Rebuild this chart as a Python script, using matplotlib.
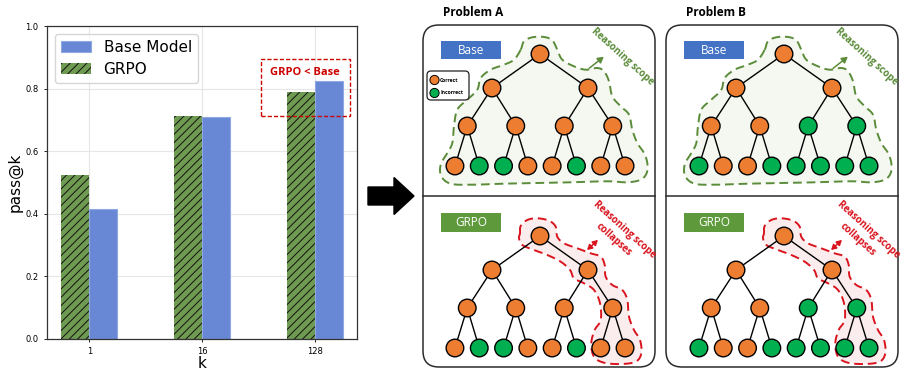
import numpy as np
import matplotlib
matplotlib.use("Agg")
import matplotlib.pyplot as plt
import matplotlib.patches as mpatches
from matplotlib.patches import FancyBboxPatch, Circle, Polygon, Rectangle

# ---------------- data ----------------
k_labels = ["1", "16", "128"]
grpo_vals = [0.525, 0.714, 0.788]
base_vals = [0.414, 0.710, 0.824]

# tree node colours: 'C' = correct (orange), 'I' = incorrect (green), level by level
probA_nodes = ["C", "C", "C", "C", "C", "C", "C",
               "C", "I", "I", "C", "C", "I", "C", "C"]
probB_nodes = ["C", "C", "C", "C", "C", "I", "I",
               "I", "C", "C", "I", "I", "I", "I", "I"]

ORANGE = "#ED7D31"
GREEN = "#00B050"
BLUE_BOX = "#4472C4"
GREEN_BOX = "#5E9A3C"
SCOPE_GREEN = "#5B8C3A"
RED = "#D9141E"

plt.rcParams["hatch.linewidth"] = 0.7

W, H = 913, 381
fig = plt.figure(figsize=(W / 100, H / 100), dpi=100)

# ---------------- bar chart ----------------
ax = fig.add_axes([47 / W, 1 - 339 / H, 310 / W, 313 / H])
x = np.arange(len(k_labels))
bw = 0.25
ax.bar(x - bw / 2, grpo_vals, bw, color="#6F9A52", edgecolor="#111111",
       linewidth=0, hatch="////", label="GRPO", zorder=2)
ax.bar(x + bw / 2, base_vals, bw, color="#6888D5", edgecolor="#8FA8E3",
       linewidth=0.8, label="Base Model", zorder=2)
ax.set_ylim(0, 1.0)
ax.set_xticks(x)
ax.set_xticklabels(k_labels)
ax.set_yticks(np.arange(0, 1.01, 0.2))
ax.tick_params(labelsize=6, length=2.5, width=0.6)
ax.set_xlabel("k", fontsize=11, labelpad=0)
ax.set_ylabel("pass@k", fontsize=11, labelpad=2)
ax.grid(True, color="#E6E6E6", linewidth=0.8, zorder=0)
ax.set_axisbelow(True)
for s in ax.spines.values():
    s.set_linewidth(0.9)
    s.set_color("#333333")
h, l = ax.get_legend_handles_labels()
ax.legend([h[1], h[0]], [l[1], l[0]], loc="upper left", fontsize=11,
          handlelength=2.0, borderaxespad=0.5, labelspacing=0.45)
# dashed highlight box
ax.add_patch(Rectangle((1.522, 0.712), 0.79, 0.183, fill=False, ls=(0, (3, 1.5)),
                       lw=1.0, edgecolor="#CC0000", clip_on=False, zorder=5))
ax.text(1.916, 0.853, "GRPO < Base", color="#CC0000", fontsize=8,
        fontweight="bold", family="Open Sans", ha="center", va="center")

# ---------------- diagram overlay (pixel coords) ----------------
d = fig.add_axes([0, 0, 1, 1])
d.set_xlim(0, W)
d.set_ylim(H, 0)
d.set_aspect("equal")
d.axis("off")

# big arrow
d.add_patch(mpatches.FancyArrow(368, 196, 46, 0, width=18, head_width=37,
                                head_length=20, length_includes_head=True,
                                color="black"))


def smooth_closed(pts, n=12):
    pts = np.asarray(pts, float)
    m = len(pts)
    out = []
    for i in range(m):
        p0, p1, p2, p3 = pts[(i - 1) % m], pts[i], pts[(i + 1) % m], pts[(i + 2) % m]
        for t in np.linspace(0, 1, n, endpoint=False):
            t2, t3 = t * t, t * t * t
            out.append(0.5 * ((2 * p1) + (-p0 + p2) * t +
                              (2 * p0 - 5 * p1 + 4 * p2 - p3) * t2 +
                              (-p0 + 3 * p1 - 3 * p2 + p3) * t3))
    return np.array(out)


green_scope = [(-17.3, -4.3), (-14, -12.7), (-5.7, -16.7), (6, -17), (14.3, -13.7),
               (19.3, -4.3), (24.3, 5.7), (36, 12.3), (47.7, 15.7), (59.3, 14),
               (66, 17.3), (71, 27.3), (74.3, 42.3), (82.7, 52.3), (91, 60.7),
               (94.3, 75.7), (99.3, 89), (106, 99), (109.3, 109), (108.7, 119),
               (102.7, 125.7), (89.3, 128.3), (69.3, 127.3), (32.7, 128.3),
               (-0.7, 129), (-34, 129.7), (-67.3, 130.7), (-87.3, 129.7),
               (-96.7, 122.3), (-97.3, 110.7), (-90.7, 99), (-85.7, 89), (-84, 72.3),
               (-80.7, 55.7), (-70.7, 45.7), (-60.7, 35.7), (-57.3, 24), (-47.3, 15.7),
               (-34, 10.7), (-24, 5.7)]
red_scope = [(-18, -2.7), (-17.3, -10), (-10.7, -16), (-0.7, -17.7), (11, -15.3),
             (17.7, -9.3), (19.3, 0.7), (26, 7.3), (39.3, 12.3), (52.7, 17.3),
             (62.7, 20.7), (66.7, 29), (67.7, 40.7), (74.3, 49), (84.3, 54),
             (89.3, 64), (91, 80.7), (96, 94), (102, 104), (103.3, 117.3),
             (97.7, 125.7), (82.7, 128), (66, 126.7), (56, 120.7), (53.3, 107.3),
             (56.7, 94), (62.7, 84), (62, 67.3), (56, 54), (46, 47.3), (36, 42.3),
             (32, 34), (22.7, 25.7), (9.3, 19), (-4, 14), (-15.7, 9), (-19, 2.3)]


def draw_tree(cx, ry, nodes):
    level_y = [0, 34, 72, 112]
    spacing = [0, 96, 48.5, 24.3]
    pos = []
    for lv in range(4):
        cnt = 2 ** lv
        for j in range(cnt):
            px = cx + (j - (cnt - 1) / 2) * spacing[lv] if lv > 0 else cx
            pos.append((px, ry + level_y[lv]))
    for i in range(1, 15):
        p = (i - 1) // 2
        d.plot([pos[p][0], pos[i][0]], [pos[p][1], pos[i][1]], color="black",
               lw=1.0, zorder=3, solid_capstyle="round")
    for i, (px, py) in enumerate(pos):
        d.add_patch(Circle((px, py), 8.8, facecolor=ORANGE if nodes[i] == "C" else GREEN,
                           edgecolor="black", lw=1.0, zorder=4))


def scope(cx, ry, pts, edge, face):
    s = smooth_closed(pts) + np.array([cx - 2, ry])
    d.add_patch(Polygon(s, closed=True, facecolor=face, edgecolor="none", zorder=1))
    d.add_patch(Polygon(s, closed=True, fill=False, edgecolor=edge, lw=1.4,
                        ls=(0, (4.5, 2.5)), zorder=2))


panels = [(423, 540, "Problem A", probA_nodes), (666, 784, "Problem B", probB_nodes)]
for left, cx, title, nodes in panels:
    d.add_patch(FancyBboxPatch((left, 25), 232, 342,
                               boxstyle="round,pad=0,rounding_size=16",
                               facecolor="white", edgecolor="#2b2b2b", lw=1.1, zorder=0))
    d.plot([left, left + 232], [195.5, 195.5], color="#2b2b2b", lw=1.1, zorder=0.5)
    d.text(left + 20, 13, title, fontsize=8.5, fontweight="bold", family="Open Sans",
           ha="left", va="center")
    # top: base
    top_root, bot_root = 54, 236
    scope(cx, top_root, green_scope, SCOPE_GREEN, "#F5F8F1")
    draw_tree(cx, top_root, nodes)
    d.add_patch(Rectangle((left + 18, 41), 60, 18, facecolor=BLUE_BOX, edgecolor="none"))
    d.text(left + 48, 50, "Base", color="white", fontsize=8.5, family="Open Sans",
           ha="center", va="center")
    d.annotate("", xy=(cx + 66, top_root + 1), xytext=(cx + 47, top_root + 16),
               arrowprops=dict(arrowstyle="-|>,head_length=0.35,head_width=0.2",
                               color=SCOPE_GREEN, lw=1.1))
    d.text(cx + 82, top_root + 3, "Reasoning scope", color=SCOPE_GREEN, fontsize=7,
           fontweight="bold", family="Open Sans", rotation=-42,
           ha="center", va="center", rotation_mode="anchor")
    # bottom: GRPO
    scope(cx, bot_root, red_scope, RED, "#FBEDED")
    draw_tree(cx, bot_root, nodes)
    d.add_patch(Rectangle((left + 18, 213), 60, 19, facecolor=GREEN_BOX, edgecolor="none"))
    d.text(left + 48, 222.5, "GRPO", color="white", fontsize=8.5, family="Open Sans",
           ha="center", va="center")
    d.annotate("", xy=(cx + 60, bot_root + 2), xytext=(cx + 45, bot_root + 16),
               arrowprops=dict(arrowstyle="<|-|>,head_length=0.3,head_width=0.17",
                               color=RED, lw=1.1))
    d.text(cx + 84, bot_root - 6, "Reasoning scope", color=RED, fontsize=7,
           fontweight="bold", family="Open Sans", rotation=-42,
           ha="center", va="center", rotation_mode="anchor")
    d.text(cx + 74, bot_root + 4, "collapses", color=RED, fontsize=7,
           fontweight="bold", family="Open Sans", rotation=-42,
           ha="center", va="center", rotation_mode="anchor")

# legend for node colours (panel A)
d.add_patch(FancyBboxPatch((427, 71), 42, 29, boxstyle="round,pad=0,rounding_size=4",
                           facecolor="white", edgecolor="#222222", lw=0.9, zorder=5))
for yy, col, lab in [(80, ORANGE, "Correct"), (93, GREEN, "Incorrect")]:
    d.add_patch(Circle((434.5, yy), 4.6, facecolor=col, edgecolor="black", lw=0.7, zorder=6))
    d.text(440, yy, lab, fontsize=3.6, fontweight="bold", family="Open Sans",
           ha="left", va="center", zorder=6)

fig.savefig("out.png", dpi=100)
